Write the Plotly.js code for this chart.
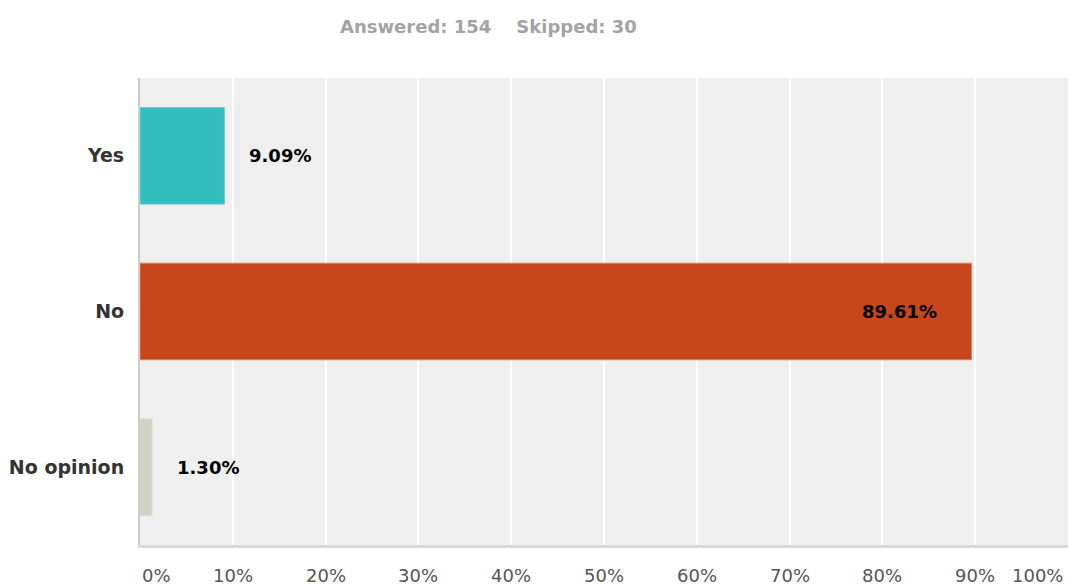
<!DOCTYPE html>
<html>
<head>
<meta charset="utf-8">
<script src="https://cdn.plot.ly/plotly-3.0.1.min.js"></script>
<style>html,body{margin:0;padding:0;background:#fff;}#chart{width:1069px;height:588px;}</style>
</head>
<body>
<div id="chart"></div>
<script>
const categories = ["Yes", "No", "No opinion"];
const percents = [9.09, 89.61, 1.30];
const barColors = ["#33bdbf", "#c8461b", "#d3d0c4"];
const barLineColors = ["#5ccdcf", "#e07a55", "#dedbd1"];
const tickValues = [0, 10, 20, 30, 40, 50, 60, 70, 80, 90, 100];
const tickLabels = ["0%", "10%", "20%", "30%", "40%", "50%", "60%", "70%", "80%", "90%", "100%"];
const titleText = "Answered: 154&nbsp;&nbsp;&nbsp;&nbsp;Skipped: 30";

const font = "DejaVu Sans, Verdana, sans-serif";

const trace = {
  type: "bar",
  orientation: "h",
  y: categories,
  x: percents,
  width: 0.62,
  marker: { color: barColors, line: { color: barLineColors, width: 1 } },
  hoverinfo: "none"
};

const annotations = [];
// value labels
percents.forEach((v, i) => {
  const inside = v > 50;
  annotations.push({
    x: v, y: categories[i], xref: "x", yref: "y",
    text: v.toFixed(2) + "%",
    showarrow: false,
    xanchor: inside ? "right" : "left",
    xshift: inside ? -33 : 23,
    font: { family: font, size: 18, color: "#000000", weight: "bold" }
  });
});
// x tick labels
tickValues.forEach((t, i) => {
  let anchor = "center";
  if (i === 0) anchor = "left";
  if (i === tickValues.length - 1) anchor = "right";
  annotations.push({
    x: t, y: 0, xref: "x", yref: "paper",
    yanchor: "top", yshift: -18,
    xshift: i === tickValues.length - 1 ? -3 : 0,
    text: tickLabels[i], showarrow: false, xanchor: anchor,
    font: { family: font, size: 18, color: "#555555" }
  });
});

const layout = {
  width: 1069, height: 588,
  margin: { l: 140, r: 1, t: 78, b: 43, pad: 0 },
  paper_bgcolor: "#ffffff",
  plot_bgcolor: "#efefef",
  showlegend: false,
  font: { family: font },
  title: {
    text: titleText,
    x: 340 / 1069, xanchor: "left",
    y: 1 - 27 / 588, yanchor: "middle",
    font: { family: font, size: 18, color: "#a3a3a3", weight: "bold" }
  },
  xaxis: {
    range: [0, 100],
    tickvals: tickValues,
    showticklabels: false,
    showgrid: true, gridcolor: "#ffffff", gridwidth: 2,
    zeroline: false,
    showline: true, linecolor: "#d9d9d9", linewidth: 3,
    fixedrange: true
  },
  yaxis: {
    type: "category",
    categoryorder: "array",
    categoryarray: categories,
    range: [2.5, -0.5],
    showgrid: false, zeroline: false,
    showline: true, linecolor: "#cccccc", linewidth: 2,
    ticks: "outside", ticklen: 10, tickcolor: "rgba(0,0,0,0)",
    tickfont: { family: font, size: 19, color: "#333333", weight: "bold" },
    fixedrange: true
  },
  annotations: annotations
};

Plotly.newPlot("chart", [trace], layout, { displayModeBar: false, staticPlot: true });
</script>
</body>
</html>
